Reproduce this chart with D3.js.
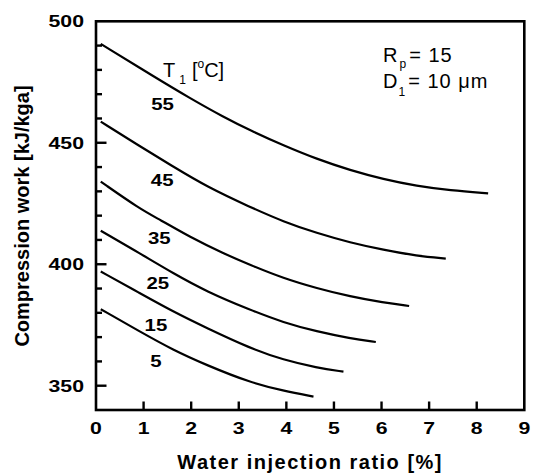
<!DOCTYPE html>
<html><head><meta charset="utf-8">
<script src="https://cdn.jsdelivr.net/npm/d3@7"></script>
<style>body{margin:0;background:#fff}svg{display:block}</style>
</head><body>
<script>
// ---- data ----
const temps = ["5","15","25","35","45","55"];
const x5  = [0.1,0.92,1.62,2.33,3.24,3.94,4.57];
const y5  = [381.5,372.3,364.7,358.4,351.3,347.9,345.5];
const x15 = [0.1,0.92,1.62,2.33,3.24,3.94,4.64,5.2];
const y15 = [397,388.1,380.5,373.7,365.4,360.6,357.4,355.8];
const x25 = [0.1,0.92,1.62,2.33,3.24,3.94,4.64,5.34,5.88];
const y25 = [413.8,404.5,396.3,388.7,381.2,376,372.3,369.5,368];
const x35 = [0.1,0.92,1.34,1.97,2.67,3.24,3.94,4.64,5.34,6.04,6.58];
const y35 = [434,422.8,418.4,411.2,404.5,399.7,394.2,390.1,386.7,384.2,382.8];
const x45 = [0.1,0.92,1.62,2.33,3.24,3.94,4.64,5.34,6.04,6.74,7.35];
const y45 = [458.7,448.6,440.2,431.9,423.5,417.5,412.8,408.9,405.9,403.4,402.3];
const x55 = [0.1,1.27,1.97,2.67,3.25,3.94,4.64,5.34,6.04,6.74,7.44,8.24];
const y55 = [490.7,476.6,468.4,460.7,455.0,448.9,443.3,438.7,435.0,432.2,430.4,429.2];
const xTicks = [0,1,2,3,4,5,6,7,8,9];
const yTicks = [350,400,450,500];
const yMinor = [360,370,380,390,410,420,430,440,460,470,480,490];
// curve label anchor positions in data units
const labelX = [1.26,1.26,1.30,1.33,1.39,1.40];
const labelY = [357.9,372.7,389.7,408.4,432.2,463.5];

const seriesX = [x5,x15,x25,x35,x45,x55];
const seriesY = [y5,y15,y25,y35,y45,y55];

const W = 537, H = 476;
const m = {l:96, r:537-524.3, t:21.3, b:476-410};
const svg = d3.select("body").append("svg").attr("width",W).attr("height",H);
const x = d3.scaleLinear().domain([0,9]).range([m.l, W-m.r]);
const y = d3.scaleLinear().domain([340,500]).range([H-m.b, m.t]);
const FONT = "'Liberation Sans', Arial, sans-serif";

function stext(str, px, py, o){
  const t = svg.append("text")
    .attr("transform",`translate(${px},${py}) scale(${o.sx||1},1)`)
    .attr("font-family",FONT)
    .attr("font-size",o.size).attr("font-weight",o.weight||"normal")
    .attr("text-anchor",o.anchor||"start").attr("fill","#000");
  if(o.ls) t.attr("letter-spacing",o.ls);
  t.text(str);
  return t;
}

// curves
const line = d3.line().curve(d3.curveBasis).x(d=>x(d[0])).y(d=>y(d[1]));
seriesX.forEach((xs,i)=>{
  const pts = xs.map((v,j)=>[v, seriesY[i][j]]);
  svg.append("path").attr("d",line(pts)).attr("fill","none")
    .attr("stroke","#000").attr("stroke-width",2.2);
});

// frame
svg.append("rect").attr("x",x(0)).attr("y",y(500)).attr("width",x(9)-x(0)).attr("height",y(340)-y(500))
  .attr("fill","none").attr("stroke","#000").attr("stroke-width",2.6);

// x ticks inward
xTicks.slice(1,-1).forEach(t=>{
  svg.append("line").attr("x1",x(t)).attr("x2",x(t)).attr("y1",y(340)).attr("y2",y(340)-8.5)
    .attr("stroke","#000").attr("stroke-width",2.4);
});
xTicks.forEach(t=>stext(String(t), x(t), 434, {size:17, weight:"bold", anchor:"middle", sx:1.25}));

// y ticks inward
yTicks.filter(t=>t<500).forEach(t=>{
  svg.append("line").attr("x1",x(0)).attr("x2",x(0)+10.5).attr("y1",y(t)).attr("y2",y(t))
    .attr("stroke","#000").attr("stroke-width",2.4);
});
yMinor.forEach(t=>{
  svg.append("line").attr("x1",x(0)).attr("x2",x(0)+6).attr("y1",y(t)).attr("y2",y(t))
    .attr("stroke","#000").attr("stroke-width",2.4);
});
yTicks.forEach(t=>stext(String(t), 84, y(t)+6, {size:17, weight:"bold", anchor:"end", sx:1.25}));

// axis titles
stext("Water injection ratio [%]", (x(0)+x(9))/2, 469, {size:20, weight:"bold", anchor:"middle", ls:"1.5px"});
svg.append("text").attr("transform","translate(29,216) rotate(-90)")
  .attr("font-family",FONT).attr("font-size",20)
  .attr("font-weight","bold").attr("text-anchor","middle").text("Compression work [kJ/kga]");

// curve labels
temps.forEach((s,i)=>stext(s, x(labelX[i]), y(labelY[i]), {size:17, weight:"bold", anchor:"middle", sx:1.2}));

// T1 [oC]
const tt = svg.append("text").attr("x",163).attr("y",77)
  .attr("font-family",FONT).attr("font-size",20);
tt.append("tspan").text("T");
tt.append("tspan").attr("font-size",12).attr("dx",4).attr("dy",7).text("1");
tt.append("tspan").attr("dx",6).attr("dy",-7).text("[");
tt.append("tspan").attr("font-size",12).attr("dy",-9).text("o");
tt.append("tspan").attr("dy",9).text("C]");

// Rp, D1
const r1 = svg.append("text").attr("x",383).attr("y",62)
  .attr("font-family",FONT).attr("font-size",20).attr("letter-spacing","1px");
r1.append("tspan").text("R");
r1.append("tspan").attr("font-size",12).attr("dx",1).attr("dy",6).text("p");
r1.append("tspan").attr("dx",2).attr("dy",-6).text("= 15");
const r2 = svg.append("text").attr("x",383).attr("y",88)
  .attr("font-family",FONT).attr("font-size",20).attr("letter-spacing","1px");
r2.append("tspan").text("D");
r2.append("tspan").attr("font-size",12).attr("dx",0).attr("dy",8).text("1");
r2.append("tspan").attr("dx",2).attr("dy",-8).text("= 10 \u03bcm");
</script>
</body></html>
